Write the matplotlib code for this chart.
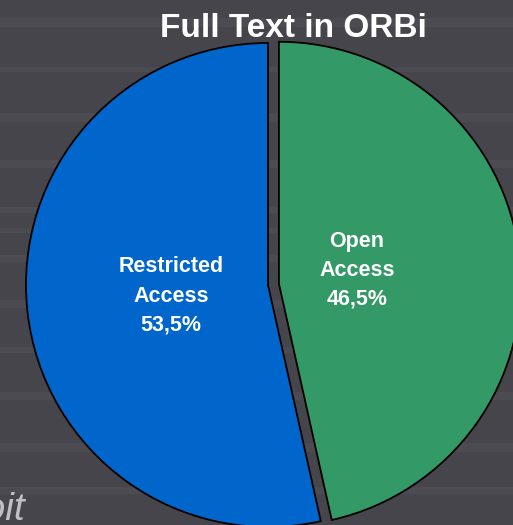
import matplotlib.pyplot as plt

plt.rcParams["font.family"] = ["Liberation Sans", "DejaVu Sans"]

labels = ["Restricted\nAccess", "Open\nAccess"]
shares = [53.5, 46.5]
colors = ["#0066CC", "#339966"]

# lighter horizontal bands of the slide background (pixel rows, top-down)
stripes = [(18, 27), (67, 72), (113, 122), (160, 168), (207, 213), (228, 233),
           (255, 262), (300, 308), (347, 353), (392, 400), (443, 452), (487, 494)]

W, H = 513, 525
fig = plt.figure(figsize=(W / 100, H / 100), dpi=100)
fig.patch.set_facecolor("#46454B")
ax = fig.add_axes([0, 0, 1, 1])
ax.set_facecolor("#46454B")

for top, bottom in stripes:
    ax.axhspan(H - bottom, H - top, color="#4C4B51", lw=0, zorder=0)

wedges, _ = ax.pie(shares, colors=colors, startangle=90, counterclock=True,
                   center=(268, H - 285), radius=242, explode=[0, 11],
                   wedgeprops=dict(edgecolor="black", linewidth=1.3))
for w in wedges:
    w.set_zorder(2)

# pie() resets the limits, so fix them afterwards
ax.set_xlim(0, W)
ax.set_ylim(0, H)
ax.set_aspect("equal")
ax.axis("off")

label_pos = [(171, H - 296), (357, H - 270)]
for (x, y), lab, val in zip(label_pos, labels, shares):
    txt = f"{lab}\n{val:.1f}%".replace(".", ",")
    ax.text(x, y, txt, ha="center", va="center", color="white",
            fontsize=15.5, fontweight="bold", linespacing=1.5, zorder=3)

ax.text(293, H - 37, "Full Text in ORBi", ha="center", va="baseline",
        color="white", fontsize=24, fontweight="bold", zorder=3)
ax.text(25, H - 520, "Exploit", ha="right", va="baseline", color="#BFBFC4",
        fontsize=28, fontstyle="italic", zorder=1)

fig.savefig("out.png", dpi=100, facecolor=fig.get_facecolor())
